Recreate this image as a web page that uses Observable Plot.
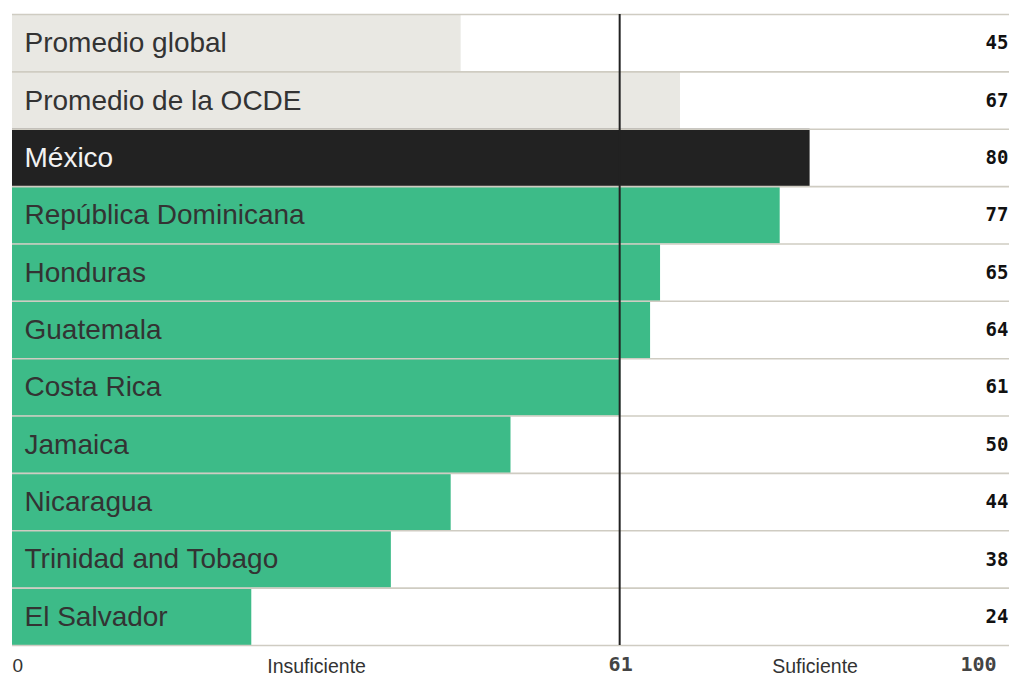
<!DOCTYPE html>
<html>
<head>
<meta charset="utf-8">
<script src="https://cdn.jsdelivr.net/npm/d3@7"></script>
<script src="https://cdn.jsdelivr.net/npm/@observablehq/plot@0.6"></script>
<style>
  html, body { margin: 0; padding: 0; background: #fff; }
</style>
</head>
<body>
<div id="chart"></div>
<script>
const countries = ["Promedio global","Promedio de la OCDE","México","República Dominicana","Honduras","Guatemala","Costa Rica","Jamaica","Nicaragua","Trinidad and Tobago","El Salvador"];
const values = [45,67,80,77,65,64,61,50,44,38,24];
const groups = ["avg","avg","mx","c","c","c","c","c","c","c","c"];
const threshold = 61;
const axisTicks = [0, 61, 100];
const zoneLabels = ["Insuficiente", "Suficiente"];
const zoneCenters = [30.5, 80.5];

const data = countries.map((c, i) => ({country: c, value: values[i], group: groups[i]}));
const fills = {avg: "#e9e8e3", mx: "#222222", c: "#3dbb88"};
const textFills = {avg: "#333333", mx: "#f2f2f2", c: "#333333"};
const half = (676 - 14 - 31) / countries.length / 2;

const chart = Plot.plot({
  width: 1011,
  height: 676,
  marginTop: 14,
  marginBottom: 31,
  marginLeft: 12,
  marginRight: 2,
  x: {domain: [0, 100], axis: null},
  y: {domain: countries, padding: 0, round: false, axis: null},
  style: {background: "transparent"},
  marks: [
    Plot.barX(data, {y: "country", x1: 0, x2: "value", fill: d => fills[d.group]}),
    Plot.ruleY(countries, {y: d => d, dy: -half, stroke: "#cfccc2", strokeWidth: 1.6}),
    Plot.ruleY([countries[countries.length - 1]], {y: d => d, dy: half, stroke: "#cfccc2", strokeWidth: 1.6}),
    Plot.ruleX([threshold], {x: d => d, dx: -1, stroke: "#222", strokeWidth: 2}),
    Plot.text(data, {y: "country", x: 0, dx: 12, text: "country", textAnchor: "start",
      fill: d => textFills[d.group], fontSize: 28, fontFamily: "Liberation Sans, Arial, sans-serif"}),
    Plot.text(data, {y: "country", frameAnchor: "right", dx: -1, text: d => String(d.value), textAnchor: "end",
      fill: "#111", fontSize: 19, fontWeight: "bold", fontFamily: "DejaVu Sans Mono, monospace"}),
    Plot.text([axisTicks[0]], {x: d => d, frameAnchor: "bottom", lineAnchor: "middle", dy: 20, text: d => String(d), textAnchor: "start",
      fill: "#333", fontSize: 19, fontFamily: "Liberation Sans, Arial, sans-serif"}),
    Plot.text([axisTicks[1]], {x: d => d, frameAnchor: "bottom", lineAnchor: "middle", dy: 19, text: d => String(d), textAnchor: "middle",
      fill: "#444", fontSize: 20, fontWeight: "bold", fontFamily: "DejaVu Sans Mono, monospace"}),
    Plot.text([axisTicks[2]], {x: d => d, frameAnchor: "bottom", lineAnchor: "middle", dy: 19, dx: -13, text: d => String(d), textAnchor: "end",
      fill: "#444", fontSize: 20, fontWeight: "bold", fontFamily: "DejaVu Sans Mono, monospace"}),
    Plot.text(zoneLabels, {x: (d, i) => zoneCenters[i], frameAnchor: "bottom", lineAnchor: "middle", dy: 21, text: d => d, textAnchor: "middle",
      fill: "#333", fontSize: 19.5, fontFamily: "Liberation Sans, Arial, sans-serif"})
  ]
});
document.getElementById("chart").appendChild(chart);
</script>
</body>
</html>
